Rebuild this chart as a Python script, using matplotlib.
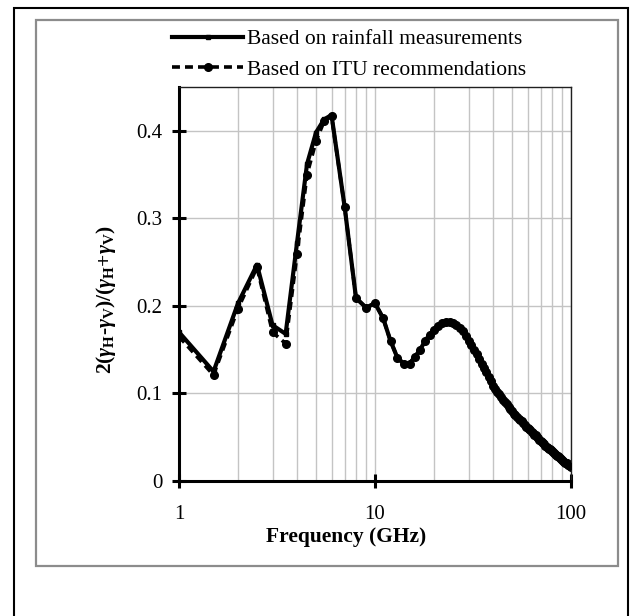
import numpy as np
import matplotlib
matplotlib.use("Agg")
import matplotlib.pyplot as plt
from matplotlib.patches import Rectangle
from matplotlib.ticker import LogLocator, NullFormatter, FixedLocator

plt.rcParams['font.family'] = ['Liberation Serif', 'DejaVu Serif']
plt.rcParams['mathtext.fontset'] = 'custom'
plt.rcParams['mathtext.rm'] = 'Liberation Serif:bold'
plt.rcParams['mathtext.it'] = 'Liberation Serif:italic:bold'
plt.rcParams['mathtext.bf'] = 'Liberation Serif:bold'

# --- data ---
freq_head = [1, 1.5, 2, 2.5, 3, 3.5, 4, 4.5, 5, 5.5, 6]
rain_head = [0.170, 0.125, 0.203, 0.247, 0.178, 0.168, 0.272, 0.362, 0.398, 0.413, 0.418]
itu_head = [0.165, 0.121, 0.197, 0.244, 0.170, 0.157, 0.259, 0.350, 0.388, 0.411, 0.417]

freq_tail = list(range(7, 101))
tail_vals = [0.313, 0.209, 0.198, 0.203, 0.186, 0.160, 0.141, 0.134, 0.134,
             0.142, 0.150, 0.160, 0.167, 0.173, 0.177, 0.180, 0.182, 0.182,
             0.181, 0.178, 0.175, 0.171, 0.166, 0.160, 0.155, 0.150, 0.145,
             0.139, 0.134, 0.129, 0.124, 0.119, 0.114, 0.108, 0.105, 0.102,
             0.099, 0.096, 0.093, 0.090, 0.088, 0.085, 0.082, 0.080, 0.077,
             0.075, 0.073, 0.071, 0.070, 0.068, 0.066, 0.064, 0.062, 0.061,
             0.059, 0.058, 0.056, 0.055, 0.053, 0.052, 0.050, 0.049, 0.047,
             0.046, 0.044, 0.043, 0.042, 0.040, 0.039, 0.038, 0.037, 0.036,
             0.035, 0.034, 0.033, 0.032, 0.031, 0.030, 0.029, 0.028, 0.027,
             0.026, 0.025, 0.024, 0.023, 0.022, 0.021, 0.021, 0.020, 0.019,
             0.018, 0.018, 0.017, 0.016]

freq = freq_head + freq_tail
rain = rain_head + tail_vals
itu = itu_head + tail_vals

W, H = 637, 616
fig = plt.figure(figsize=(W / 100, H / 100), dpi=100)

# frames around the chart
fig.patches.append(Rectangle((14 / W, 1 - 640 / H), 614 / W, 632 / H, transform=fig.transFigure,
                             fill=False, edgecolor='black', linewidth=1.5))
fig.patches.append(Rectangle((36 / W, 1 - 566 / H), 582 / W, 546 / H, transform=fig.transFigure,
                             fill=False, edgecolor='#8c8c8c', linewidth=1.6))

ax = fig.add_axes([179 / W, 1 - 481 / H, 392 / W, 394 / H])

ax.plot(freq, rain, color='black', linestyle='-', linewidth=3.0, marker='s', markersize=3.5,
        label='Based on rainfall measurements', zorder=3)
ax.plot(freq, itu, color='black', linestyle=(0, (2.2, 1.4)), linewidth=2.6, marker='o', markersize=5.5,
        label='Based on ITU recommendations', zorder=2)

ax.set_xscale('log')
ax.set_xlim(1, 100)
ax.set_ylim(0, 0.45)
ax.xaxis.set_major_locator(FixedLocator([1, 10, 100]))
ax.set_xticklabels(['1', '10', '100'])
ax.xaxis.set_minor_locator(LogLocator(base=10, subs=np.arange(2, 10)))
ax.xaxis.set_minor_formatter(NullFormatter())
ax.set_yticks([0, 0.1, 0.2, 0.3, 0.4])
ax.set_yticklabels(['0', '0.1', '0.2', '0.3', '0.4'])

ax.grid(True, which='major', color='#c4c4c4', linewidth=1.0)
ax.grid(True, which='minor', axis='x', color='#c4c4c4', linewidth=1.0)
ax.set_axisbelow(True)

for s in ['left', 'bottom']:
    ax.spines[s].set_linewidth(2.2)
for s in ['top', 'right']:
    ax.spines[s].set_linewidth(1.0)
    ax.spines[s].set_color('#202020')

ax.tick_params(axis='both', which='major', direction='inout', length=10, width=2.2,
               labelsize=15)
ax.tick_params(axis='x', which='minor', length=0)
ax.tick_params(axis='x', pad=12)
ax.tick_params(axis='y', pad=7)

ax.set_xlabel('Frequency (GHz)', fontsize=15.5, fontweight='bold')
ax.xaxis.set_label_coords(0.426, -0.117)
ax.set_ylabel(r'$2(\gamma_{\mathrm{H}}$-$\gamma_{\mathrm{V}})/(\gamma_{\mathrm{H}}$+$\gamma_{\mathrm{V}})$',
              fontsize=15.5, fontweight='bold')
ax.yaxis.set_label_coords(-0.155, 0.46)

fig.legend(loc='upper left', bbox_to_anchor=(172 / W, 1 - 29 / H), frameon=False,
           fontsize=15.5, handlelength=3.3, handletextpad=0.2, labelspacing=0.5,
           borderpad=0, borderaxespad=0, numpoints=1)

fig.savefig('out.png', dpi=100)
